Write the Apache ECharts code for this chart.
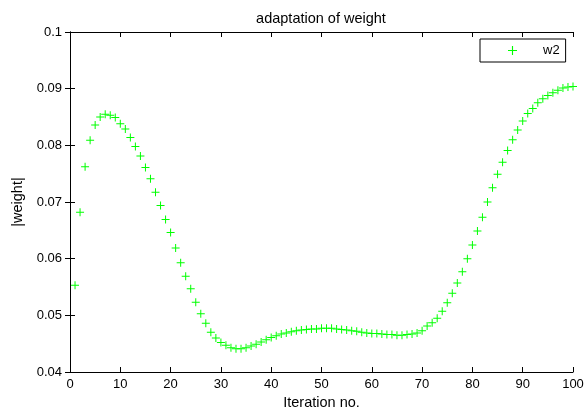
<!DOCTYPE html>
<html>
<head>
<meta charset="utf-8">
<script src="https://cdn.jsdelivr.net/npm/echarts@6/dist/echarts.min.js"></script>
<style>html,body{margin:0;padding:0;background:#fff}#c{width:585px;height:407px}</style>
</head>
<body>
<div id="c"></div>
<script>
var iterations = [1,2,3,4,5,6,7,8,9,10,11,12,13,14,15,16,17,18,19,20,21,22,23,24,25,26,27,28,29,30,31,32,33,34,35,36,37,38,39,40,41,42,43,44,45,46,47,48,49,50,51,52,53,54,55,56,57,58,59,60,61,62,63,64,65,66,67,68,69,70,71,72,73,74,75,76,77,78,79,80,81,82,83,84,85,86,87,88,89,90,91,92,93,94,95,96,97,98,99,100];
var w2 = [0.0553,0.0682,0.0762,0.0809,0.0836,0.0850,0.0855,0.0853,0.0849,0.0838,
0.0829,0.0814,0.0798,0.0781,0.0761,0.0741,0.0717,0.0694,0.0669,0.0646,
0.0619,0.0593,0.0569,0.0547,0.0523,0.0503,0.0486,0.0470,0.0460,0.0452,
0.0447,0.0443,0.0441,0.0441,0.0443,0.0446,0.0449,0.0453,0.0457,0.0461,
0.0464,0.0467,0.0469,0.0471,0.0473,0.0474,0.0475,0.0476,0.0476,0.0477,
0.0477,0.0477,0.0476,0.0475,0.0474,0.0473,0.0472,0.0470,0.0469,0.0468,
0.0468,0.0467,0.0466,0.0466,0.0465,0.0465,0.0466,0.0467,0.0469,0.0473,
0.0481,0.0487,0.0495,0.0507,0.0522,0.0539,0.0557,0.0577,0.0600,0.0624,
0.0649,0.0673,0.0700,0.0725,0.0749,0.0770,0.0791,0.0810,0.0827,0.0843,
0.0856,0.0865,0.0875,0.0882,0.0888,0.0893,0.0897,0.0901,0.0903,0.0904];
var seriesName = 'w2';
var chartTitle = 'adaptation of weight';
var xLabel = 'Iteration no.';
var yLabel = '|weight|';

var plus = 'path://M3.5,0h1v3.5h3.5v1h-3.5v3.5h-1v-3.5h-3.5v-1h3.5z';
var FONT = 'Liberation Sans, Arial, Helvetica, sans-serif';
var axisCommon = {
  axisLine: {show: true, lineStyle: {color: '#000', width: 1}},
  axisTick: {show: true, inside: true, length: 5, lineStyle: {color: '#000'}},
  splitLine: {show: false}
};
var chart = echarts.init(document.getElementById('c'), null, {renderer: 'canvas'});
chart.setOption({
  animation: false,
  backgroundColor: '#fff',
  title: {
    text: chartTitle, left: 321, textAlign: 'center', top: 11, padding: 0,
    textStyle: {fontFamily: FONT, fontSize: 14.5, fontWeight: 'normal', color: '#000'}
  },
  legend: {
    data: [{name: seriesName, icon: plus}],
    left: 480, top: 39,
    itemWidth: 9, itemHeight: 9,
    padding: [5, 6, 5, 28],
    borderColor: '#000', borderWidth: 1, backgroundColor: '#fff',
    textStyle: {fontFamily: FONT, fontSize: 13, color: '#000', padding: [0, 0, 0, 21]}
  },
  grid: {left: 70, top: 32, width: 503, height: 340, containLabel: false, outerBoundsMode: 'none'},
  xAxis: [
    Object.assign({
      type: 'value', min: 0, max: 100, interval: 10, position: 'bottom',
      name: xLabel, nameLocation: 'middle', nameGap: 20,
      nameTextStyle: {fontFamily: FONT, fontSize: 14.5, color: '#000'},
      axisLabel: {fontFamily: FONT, fontSize: 13, color: '#000', margin: 6}
    }, axisCommon),
    Object.assign({
      type: 'value', min: 0, max: 100, interval: 10, position: 'top',
      axisLabel: {show: false}
    }, axisCommon)
  ],
  yAxis: [
    Object.assign({
      type: 'value', min: 0.04, max: 0.1, interval: 0.01, position: 'left',
      name: yLabel, nameLocation: 'middle', nameGap: 43, nameRotate: 90,
      nameTextStyle: {fontFamily: FONT, fontSize: 14.5, color: '#000'},
      axisLabel: {fontFamily: FONT, fontSize: 13, color: '#000', margin: 8,
        formatter: function (v) { return String(+v.toFixed(2)); }}
    }, axisCommon),
    Object.assign({
      type: 'value', min: 0.04, max: 0.1, interval: 0.01, position: 'right',
      axisLabel: {show: false}
    }, axisCommon)
  ],
  series: [{
    name: seriesName,
    type: 'scatter',
    xAxisIndex: 0, yAxisIndex: 0,
    symbol: plus,
    symbolSize: 8,
    itemStyle: {color: '#00ff00', opacity: 1},
    data: iterations.map(function (x, i) { return [x, w2[i]]; })
  }]
});
</script>
</body>
</html>
